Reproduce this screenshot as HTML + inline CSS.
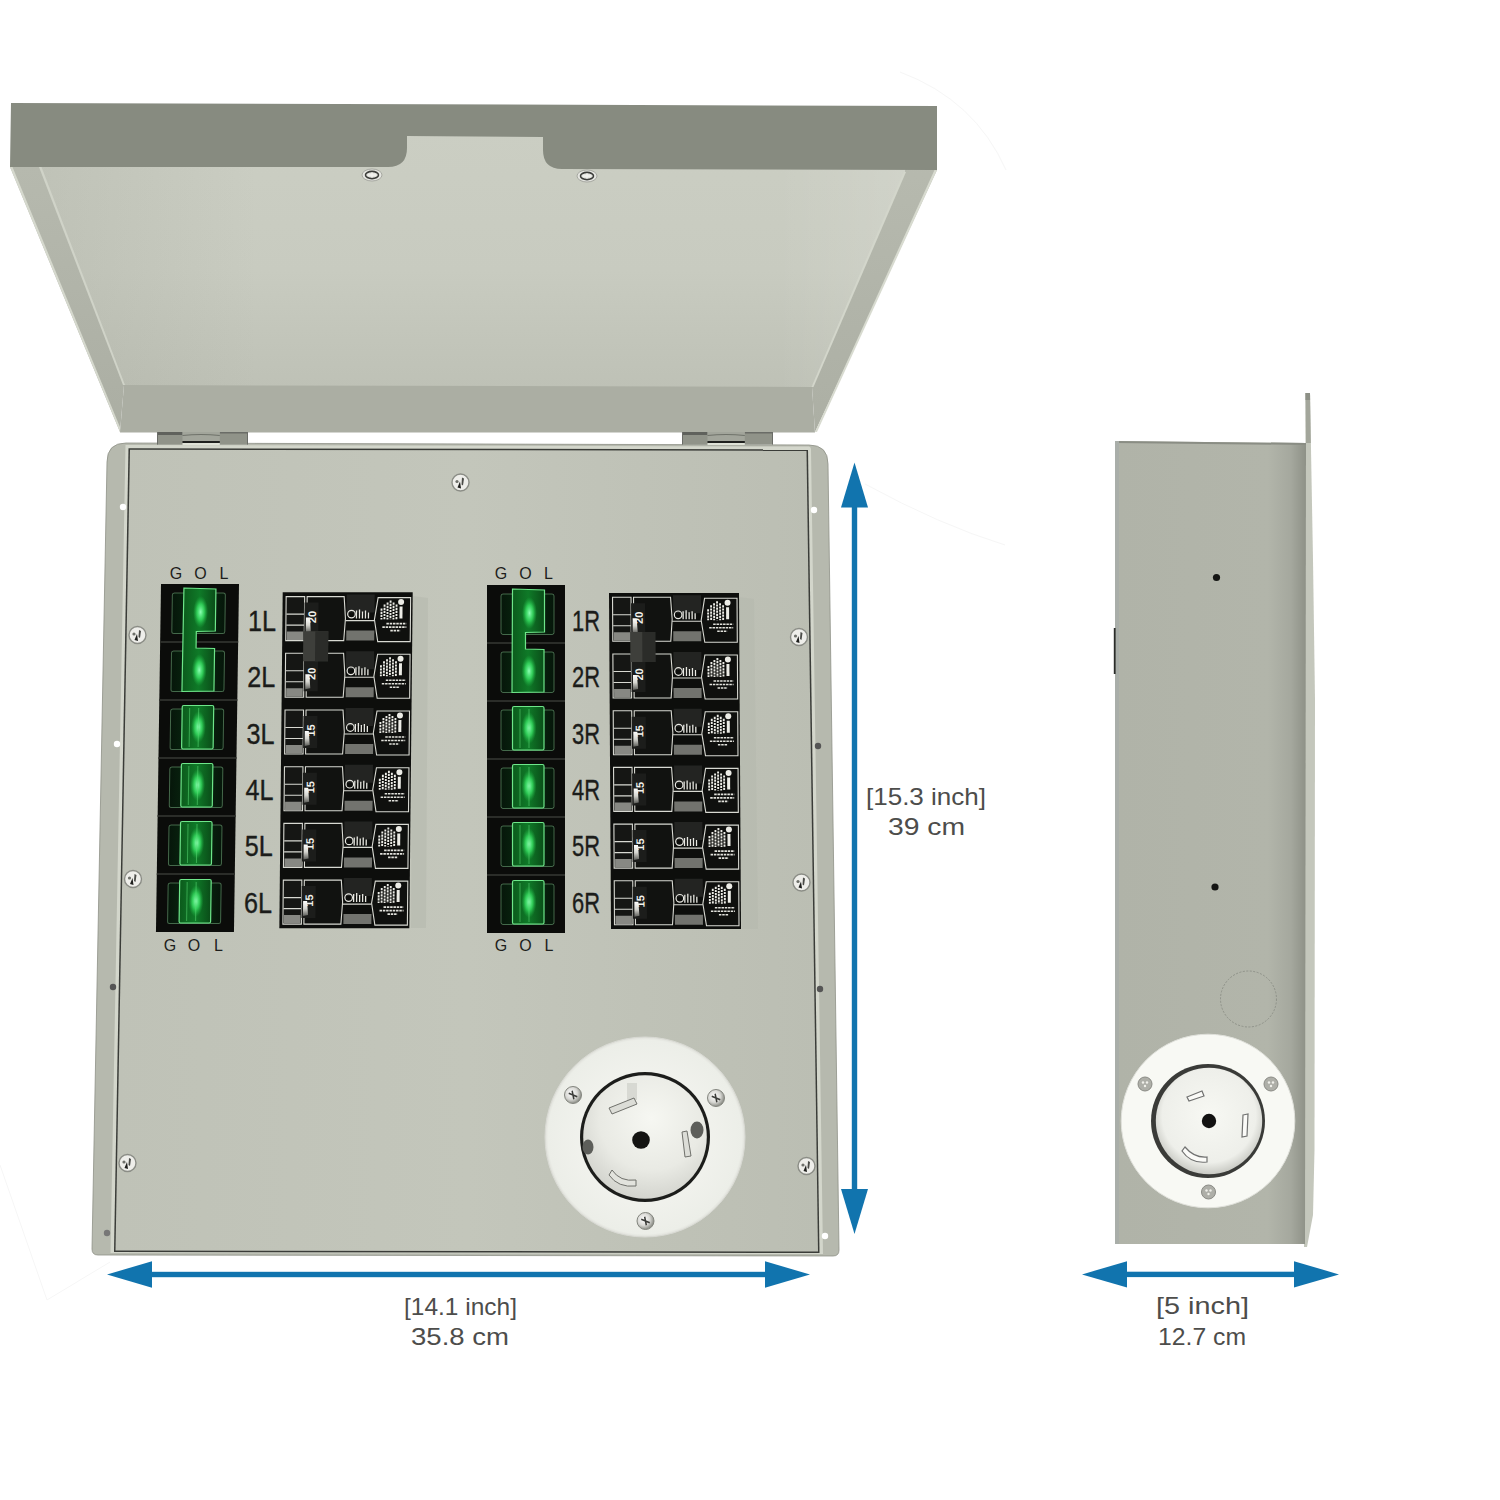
<!DOCTYPE html>
<html><head><meta charset="utf-8"><title>Transfer switch dimensions</title>
<style>html,body{margin:0;padding:0;background:#fff;width:1500px;height:1500px;overflow:hidden}svg{display:block}</style>
</head><body><svg width="1500" height="1500" viewBox="0 0 1500 1500">
<defs>
<linearGradient id="lidIn" x1="0" y1="0" x2="0" y2="1">
<stop offset="0" stop-color="#cbcec3"/><stop offset="0.55" stop-color="#c8cbc0"/><stop offset="1" stop-color="#bec1b6"/></linearGradient>
<linearGradient id="lidR" x1="0" y1="0" x2="0" y2="1">
<stop offset="0" stop-color="#b7baaf"/><stop offset="1" stop-color="#acafa4"/></linearGradient>
<linearGradient id="lidL" x1="0" y1="0" x2="0" y2="1">
<stop offset="0" stop-color="#b6b9ae"/><stop offset="1" stop-color="#abaea3"/></linearGradient>
<linearGradient id="lidIn2" x1="0" y1="0" x2="1" y2="0">
<stop offset="0" stop-color="#9fa297" stop-opacity="0.25"/><stop offset="0.25" stop-color="#9fa297" stop-opacity="0"/><stop offset="0.85" stop-color="#ffffff" stop-opacity="0"/><stop offset="1" stop-color="#ffffff" stop-opacity="0.12"/></linearGradient>
<linearGradient id="panelG" x1="0" y1="0" x2="1" y2="0">
<stop offset="0" stop-color="#bfc2b7"/><stop offset="0.5" stop-color="#c3c6bb"/><stop offset="1" stop-color="#bbbeb3"/></linearGradient>
<linearGradient id="sideG" x1="0" y1="0" x2="1" y2="0">
<stop offset="0" stop-color="#b0b3a8"/><stop offset="0.8" stop-color="#b2b5aa"/><stop offset="0.92" stop-color="#a5a89e"/><stop offset="1" stop-color="#8e9187"/></linearGradient>
<radialGradient id="screwG" cx="0.4" cy="0.4" r="0.6">
<stop offset="0" stop-color="#ffffff"/><stop offset="0.6" stop-color="#d8d8d4"/><stop offset="1" stop-color="#8d8f88"/></radialGradient>
</defs>
<rect width="1500" height="1500" fill="#ffffff"/>
<path d="M900,72 Q975,100 1006,170" fill="none" stroke="#f6f6f6" stroke-width="1"/>
<path d="M865,484 Q940,525 1005,545" fill="none" stroke="#f6f6f6" stroke-width="1"/>
<path d="M0,1165 L47,1300 L110,1262" fill="none" stroke="#f6f6f6" stroke-width="1"/>
<polygon points="40,128 905,128 906,172 812,388 124,386 40,167" fill="url(#lidIn)"/>
<polygon points="40,128 905,128 906,172 812,388 124,386 40,167" fill="url(#lidIn2)"/>
<polygon points="10,167 40,167 124,385 120,432" fill="url(#lidL)"/>
<polygon points="10,167 12.5,167 122,432 120,432" fill="#d6d9ce"/>
<polygon points="39,167 41.5,167 125,385 123,385" fill="#d0d3c8"/>
<polygon points="906,150 937,150 937,170 815,432 812,387 905,172" fill="url(#lidR)"/>
<polygon points="934.5,170 937,170 817,432 815,432" fill="#d8dbd0"/>
<polygon points="903.5,172 906,172 813.5,387 811.5,387" fill="#d3d6cb"/>
<polygon points="124,385 812,387 815,432.5 120,432.5" fill="#abaea3"/>
<path d="M11,103 L937,106 L937,170 L562,169 Q543,169 543,150 L543,137 L407,136 L407,148 Q407,167 388,167 L10,167 Z" fill="#878b80"/>
<ellipse cx="372" cy="175" rx="10" ry="6" fill="#e4e5e0" stroke="#9a9c95" stroke-width="0.8"/>
<ellipse cx="372" cy="175" rx="6.5" ry="3.6" fill="none" stroke="#3c3d3a" stroke-width="1.6"/>
<path d="M368,175 L376,175 M372,172.5 L372,177.5" stroke="#f4f4f0" stroke-width="1.4"/>
<ellipse cx="587" cy="176" rx="10" ry="6" fill="#e4e5e0" stroke="#9a9c95" stroke-width="0.8"/>
<ellipse cx="587" cy="176" rx="6.5" ry="3.6" fill="none" stroke="#3c3d3a" stroke-width="1.6"/>
<path d="M583,176 L591,176 M587,173.5 L587,178.5" stroke="#f4f4f0" stroke-width="1.4"/>
<path d="M107,462 Q107,443 126,443 L809,445 Q828,445 828,464 L839,1250 Q839,1256 833,1256 L98,1255 Q92,1255 92,1249 Z" fill="#b6b9ae" stroke="#8e9187" stroke-width="0.8"/>
<path d="M125.5,445 L809,446.5 Q811,447 811,449 L823,1254 L110.5,1253 Z" fill="#d3d6cb"/>
<polygon points="128.5,448.3 808,449.3 819.5,1253 114,1252" fill="#3a3c38"/>
<polygon points="130,449.8 806.5,450.8 818,1251.5 115.5,1250.5" fill="url(#panelG)"/>
<rect x="157" y="432" width="91" height="12.5" fill="#909389"/>
<rect x="157" y="432" width="25.5" height="3" fill="#5f615c"/>
<rect x="219.8" y="432" width="28.2" height="1.5" fill="#6a6c67"/>
<rect x="182.5" y="432" width="37.3" height="9" fill="#a2a59b"/>
<path d="M182.5,435.5 Q201.1,433.5 219.8,435.5" stroke="#6f726a" stroke-width="1.2" fill="none"/>
<rect x="182.5" y="441" width="37.3" height="2" fill="#1f201e"/>
<rect x="182.5" y="443" width="37.3" height="2" fill="#dfe2d7"/>
<rect x="157" y="432" width="1" height="12.5" fill="#6a6c67"/>
<rect x="247" y="432" width="1" height="12.5" fill="#6a6c67"/>
<rect x="682" y="432" width="91" height="12.5" fill="#909389"/>
<rect x="682" y="432" width="25.5" height="3" fill="#5f615c"/>
<rect x="744.8" y="432" width="28.2" height="1.5" fill="#6a6c67"/>
<rect x="707.5" y="432" width="37.3" height="9" fill="#a2a59b"/>
<path d="M707.5,435.5 Q726.1,433.5 744.8,435.5" stroke="#6f726a" stroke-width="1.2" fill="none"/>
<rect x="707.5" y="441" width="37.3" height="2" fill="#1f201e"/>
<rect x="707.5" y="443" width="37.3" height="2" fill="#dfe2d7"/>
<rect x="682" y="432" width="1" height="12.5" fill="#6a6c67"/>
<rect x="772" y="432" width="1" height="12.5" fill="#6a6c67"/>
<circle cx="123" cy="507" r="3.2" fill="#ffffff"/>
<circle cx="117" cy="744" r="3.2" fill="#ffffff"/>
<circle cx="113" cy="987" r="3.2" fill="#555"/>
<circle cx="107" cy="1233" r="3.2" fill="#777"/>
<circle cx="814" cy="510" r="3.2" fill="#ffffff"/>
<circle cx="818" cy="746" r="3.2" fill="#555"/>
<circle cx="820" cy="989" r="3.2" fill="#555"/>
<circle cx="825" cy="1236" r="3.2" fill="#ffffff"/>
<circle cx="460.5" cy="482.5" r="8.5" fill="#eeeeea" stroke="#8b8d86" stroke-width="1.4"/>
<path d="M457.5,487.5 L460.0,481.5 L461.0,488.5 Z" fill="#1e1f1d"/>
<circle cx="457.0" cy="481.5" r="1.6" fill="#6e706a"/>
<path d="M462.0,477.5 L464.0,478.5 L463.0,485.5 L461.5,484.5 Z" fill="#4b4c48"/>
<circle cx="137.5" cy="635" r="8.5" fill="#eeeeea" stroke="#8b8d86" stroke-width="1.4"/>
<path d="M134.5,640 L137.0,634 L138.0,641 Z" fill="#1e1f1d"/>
<circle cx="134.0" cy="634" r="1.6" fill="#6e706a"/>
<path d="M139.0,630 L141.0,631 L140.0,638 L138.5,637 Z" fill="#4b4c48"/>
<circle cx="133" cy="879" r="8.5" fill="#eeeeea" stroke="#8b8d86" stroke-width="1.4"/>
<path d="M130,884 L132.5,878 L133.5,885 Z" fill="#1e1f1d"/>
<circle cx="129.5" cy="878" r="1.6" fill="#6e706a"/>
<path d="M134.5,874 L136.5,875 L135.5,882 L134,881 Z" fill="#4b4c48"/>
<circle cx="127.5" cy="1163" r="8.5" fill="#eeeeea" stroke="#8b8d86" stroke-width="1.4"/>
<path d="M124.5,1168 L127.0,1162 L128.0,1169 Z" fill="#1e1f1d"/>
<circle cx="124.0" cy="1162" r="1.6" fill="#6e706a"/>
<path d="M129.0,1158 L131.0,1159 L130.0,1166 L128.5,1165 Z" fill="#4b4c48"/>
<circle cx="799" cy="637" r="8.5" fill="#eeeeea" stroke="#8b8d86" stroke-width="1.4"/>
<path d="M796,642 L798.5,636 L799.5,643 Z" fill="#1e1f1d"/>
<circle cx="795.5" cy="636" r="1.6" fill="#6e706a"/>
<path d="M800.5,632 L802.5,633 L801.5,640 L800,639 Z" fill="#4b4c48"/>
<circle cx="801.5" cy="882.5" r="8.5" fill="#eeeeea" stroke="#8b8d86" stroke-width="1.4"/>
<path d="M798.5,887.5 L801.0,881.5 L802.0,888.5 Z" fill="#1e1f1d"/>
<circle cx="798.0" cy="881.5" r="1.6" fill="#6e706a"/>
<path d="M803.0,877.5 L805.0,878.5 L804.0,885.5 L802.5,884.5 Z" fill="#4b4c48"/>
<circle cx="806.5" cy="1166" r="8.5" fill="#eeeeea" stroke="#8b8d86" stroke-width="1.4"/>
<path d="M803.5,1171 L806.0,1165 L807.0,1172 Z" fill="#1e1f1d"/>
<circle cx="803.0" cy="1165" r="1.6" fill="#6e706a"/>
<path d="M808.0,1161 L810.0,1162 L809.0,1169 L807.5,1168 Z" fill="#4b4c48"/>
<defs>
<radialGradient id="glow" cx="0.5" cy="0.5" r="0.5">
<stop offset="0" stop-color="#7dffa8"/><stop offset="0.35" stop-color="#22d14a"/><stop offset="1" stop-color="#0b5a1c"/></radialGradient>
<linearGradient id="outerG" x1="0" y1="0" x2="1" y2="0">
<stop offset="0" stop-color="#06160a"/><stop offset="0.5" stop-color="#0a2e12"/><stop offset="1" stop-color="#06160a"/></linearGradient>
<linearGradient id="glow2" x1="0" y1="0" x2="1" y2="0">
<stop offset="0" stop-color="#0c5a1c"/><stop offset="0.5" stop-color="#0f7a28"/><stop offset="1" stop-color="#0a4c18"/></linearGradient>
<radialGradient id="glowC" cx="0.5" cy="0.5" r="0.5">
<stop offset="0" stop-color="#8dffb4" stop-opacity="1"/><stop offset="0.5" stop-color="#3ef06c" stop-opacity="0.7"/><stop offset="1" stop-color="#20c048" stop-opacity="0"/></radialGradient>
</defs>
<g transform="translate(161,584) matrix(1,0,-0.0145,1,0,0)">
<rect x="0" y="0" width="78" height="348" fill="#0b0c0a"/>
<rect x="11.5" y="9" width="53" height="40.5" rx="2" fill="url(#outerG)" stroke="#8fd39a" stroke-opacity="0.45" stroke-width="1"/>
<rect x="0" y="57" width="78" height="2" fill="#2b2d29"/>
<rect x="11.5" y="67" width="53" height="40.5" rx="2" fill="url(#outerG)" stroke="#8fd39a" stroke-opacity="0.45" stroke-width="1"/>
<rect x="0" y="115" width="78" height="2" fill="#2b2d29"/>
<rect x="11.5" y="125" width="53" height="40.5" rx="2" fill="url(#outerG)" stroke="#8fd39a" stroke-opacity="0.45" stroke-width="1"/>
<rect x="0" y="173" width="78" height="2" fill="#2b2d29"/>
<rect x="11.5" y="183" width="53" height="40.5" rx="2" fill="url(#outerG)" stroke="#8fd39a" stroke-opacity="0.45" stroke-width="1"/>
<rect x="0" y="231" width="78" height="2" fill="#2b2d29"/>
<rect x="11.5" y="241" width="53" height="40.5" rx="2" fill="url(#outerG)" stroke="#8fd39a" stroke-opacity="0.45" stroke-width="1"/>
<rect x="0" y="289" width="78" height="2" fill="#2b2d29"/>
<rect x="11.5" y="299" width="53" height="40.5" rx="2" fill="url(#outerG)" stroke="#8fd39a" stroke-opacity="0.45" stroke-width="1"/>
<g transform="translate(0,0)">
<path d="M23,4 L55,5 L55,47 L36,47.5 L36,64 L54.5,64.5 L54.5,107 L22.5,107.5 Z" fill="url(#glow2)" stroke="#6ee68a" stroke-width="1.2"/>
<ellipse cx="40" cy="28" rx="7.5" ry="16" fill="url(#glowC)"/>
<ellipse cx="39.5" cy="86" rx="7.5" ry="16" fill="url(#glowC)"/>
<rect x="23" y="121.5" width="31.5" height="43.5" rx="1.5" fill="url(#glow2)" stroke="#6ee68a" stroke-width="1.2"/>
<ellipse cx="39.5" cy="143" rx="7.5" ry="16" fill="url(#glowC)"/>
<path d="M30.5,124 L30.5,163 M39.5,124 L39.5,163" stroke="#5bd874" stroke-opacity="0.55" stroke-width="1"/>
<rect x="23" y="179.5" width="31.5" height="43.5" rx="1.5" fill="url(#glow2)" stroke="#6ee68a" stroke-width="1.2"/>
<ellipse cx="39.5" cy="201" rx="7.5" ry="16" fill="url(#glowC)"/>
<path d="M30.5,182 L30.5,221 M39.5,182 L39.5,221" stroke="#5bd874" stroke-opacity="0.55" stroke-width="1"/>
<rect x="23" y="237.5" width="31.5" height="43.5" rx="1.5" fill="url(#glow2)" stroke="#6ee68a" stroke-width="1.2"/>
<ellipse cx="39.5" cy="259" rx="7.5" ry="16" fill="url(#glowC)"/>
<path d="M30.5,240 L30.5,279 M39.5,240 L39.5,279" stroke="#5bd874" stroke-opacity="0.55" stroke-width="1"/>
<rect x="23" y="295.5" width="31.5" height="43.5" rx="1.5" fill="url(#glow2)" stroke="#6ee68a" stroke-width="1.2"/>
<ellipse cx="39.5" cy="317" rx="7.5" ry="16" fill="url(#glowC)"/>
<path d="M30.5,298 L30.5,337 M39.5,298 L39.5,337" stroke="#5bd874" stroke-opacity="0.55" stroke-width="1"/>
</g>
</g>
<g transform="translate(487,585) matrix(1,0,0.0,1,0,0)">
<rect x="0" y="0" width="78" height="348" fill="#0b0c0a"/>
<rect x="14.0" y="9" width="53" height="40.5" rx="2" fill="url(#outerG)" stroke="#8fd39a" stroke-opacity="0.45" stroke-width="1"/>
<rect x="0" y="57" width="78" height="2" fill="#2b2d29"/>
<rect x="14.0" y="67" width="53" height="40.5" rx="2" fill="url(#outerG)" stroke="#8fd39a" stroke-opacity="0.45" stroke-width="1"/>
<rect x="0" y="115" width="78" height="2" fill="#2b2d29"/>
<rect x="14.0" y="125" width="53" height="40.5" rx="2" fill="url(#outerG)" stroke="#8fd39a" stroke-opacity="0.45" stroke-width="1"/>
<rect x="0" y="173" width="78" height="2" fill="#2b2d29"/>
<rect x="14.0" y="183" width="53" height="40.5" rx="2" fill="url(#outerG)" stroke="#8fd39a" stroke-opacity="0.45" stroke-width="1"/>
<rect x="0" y="231" width="78" height="2" fill="#2b2d29"/>
<rect x="14.0" y="241" width="53" height="40.5" rx="2" fill="url(#outerG)" stroke="#8fd39a" stroke-opacity="0.45" stroke-width="1"/>
<rect x="0" y="289" width="78" height="2" fill="#2b2d29"/>
<rect x="14.0" y="299" width="53" height="40.5" rx="2" fill="url(#outerG)" stroke="#8fd39a" stroke-opacity="0.45" stroke-width="1"/>
<g transform="translate(2.5,0)">
<path d="M23,4 L55,5 L55,47 L36,47.5 L36,64 L54.5,64.5 L54.5,107 L22.5,107.5 Z" fill="url(#glow2)" stroke="#6ee68a" stroke-width="1.2"/>
<ellipse cx="40" cy="28" rx="7.5" ry="16" fill="url(#glowC)"/>
<ellipse cx="39.5" cy="86" rx="7.5" ry="16" fill="url(#glowC)"/>
<rect x="23" y="121.5" width="31.5" height="43.5" rx="1.5" fill="url(#glow2)" stroke="#6ee68a" stroke-width="1.2"/>
<ellipse cx="39.5" cy="143" rx="7.5" ry="16" fill="url(#glowC)"/>
<path d="M30.5,124 L30.5,163 M39.5,124 L39.5,163" stroke="#5bd874" stroke-opacity="0.55" stroke-width="1"/>
<rect x="23" y="179.5" width="31.5" height="43.5" rx="1.5" fill="url(#glow2)" stroke="#6ee68a" stroke-width="1.2"/>
<ellipse cx="39.5" cy="201" rx="7.5" ry="16" fill="url(#glowC)"/>
<path d="M30.5,182 L30.5,221 M39.5,182 L39.5,221" stroke="#5bd874" stroke-opacity="0.55" stroke-width="1"/>
<rect x="23" y="237.5" width="31.5" height="43.5" rx="1.5" fill="url(#glow2)" stroke="#6ee68a" stroke-width="1.2"/>
<ellipse cx="39.5" cy="259" rx="7.5" ry="16" fill="url(#glowC)"/>
<path d="M30.5,240 L30.5,279 M39.5,240 L39.5,279" stroke="#5bd874" stroke-opacity="0.55" stroke-width="1"/>
<rect x="23" y="295.5" width="31.5" height="43.5" rx="1.5" fill="url(#glow2)" stroke="#6ee68a" stroke-width="1.2"/>
<ellipse cx="39.5" cy="317" rx="7.5" ry="16" fill="url(#glowC)"/>
<path d="M30.5,298 L30.5,337 M39.5,298 L39.5,337" stroke="#5bd874" stroke-opacity="0.55" stroke-width="1"/>
</g>
</g>
<polygon points="412.5,596 428,598 426,928 411,928" fill="#b5b8ad" opacity="0.55"/>
<polygon points="738.5,597 754,599 758,929 742,929" fill="#b5b8ad" opacity="0.55"/>
<g transform="translate(282.7,592.3) matrix(1,0,-0.01,1,0,0)">
<rect x="0" y="0" width="130" height="336" fill="#0d0e0c"/>
<rect x="3.5" y="4.3" width="18.5" height="44" fill="#151614" stroke="#d8d9d2" stroke-width="1.1"/>
<rect x="4.5" y="39.3" width="16.5" height="8.5" fill="#878883"/>
<path d="M4,21.8 L22,21.8 M4,32.8 L22,32.8" stroke="#d8d9d2" stroke-width="1.1"/>
<path d="M24.5,4.3 L61.5,4.3 L63,26.3 L61.5,48.3 L24.5,48.3 Z" fill="#111210" stroke="#d8d9d2" stroke-width="1.1"/>
<rect x="22" y="10.3" width="14" height="32" fill="#1c1d1b"/>
<path d="M23.5,25.3 L27.5,25.3 L28.5,39.3 L23.5,40.3 Z" fill="url(#tagG)"/>
<rect x="64" y="2.3" width="28" height="18" fill="#232422"/>
<circle cx="69" cy="21.8" r="3.8" fill="none" stroke="#e8e8e2" stroke-width="1.2"/>
<path d="M74,18.3 L74,26.3 M77,17.3 L77,26.3 M80,19.3 L80,26.3 M83,18.3 L83,26.3 M86,20.3 L86,26.3" stroke="#e8e8e2" stroke-width="1.3"/>
<path d="M63,28.3 L92,28.3" stroke="#d8d9d2" stroke-width="1.1"/>
<rect x="64" y="38.3" width="28" height="10" fill="#72736e"/>
<path d="M95.5,5.3 L128,5.3 L128,49.3 L95.5,49.3 L92,27.3 Z" fill="#0f100e" stroke="#d8d9d2" stroke-width="1.1"/>
<path d="M99,16.3 L99,27.3 M102,12.3 L102,27.3 M105,10.3 L105,27.3 M108,8.3 L108,27.3 M111,10.3 L111,27.3 M114,12.3 L114,27.3" stroke="#ecece6" stroke-width="1.9" stroke-dasharray="2.2,0.9"/>
<rect x="117" y="14.3" width="3" height="12" fill="#ecece6"/>
<circle cx="118.5" cy="9.8" r="3" fill="#ecece6"/>
<path d="M104,31.3 L124,31.3 M100,34.8 L124,34.8 M108,38.3 L118,38.3" stroke="#e2e2dc" stroke-width="1.6" stroke-dasharray="2.5,0.8"/>
<text x="0" y="0" transform="translate(33.5,24.8) rotate(-90)" text-anchor="middle" font-family="Liberation Sans, sans-serif" font-weight="bold" font-size="11" fill="#f2f2ec">20</text>
<rect x="3.5" y="61.0" width="18.5" height="44" fill="#151614" stroke="#d8d9d2" stroke-width="1.1"/>
<rect x="4.5" y="96.0" width="16.5" height="8.5" fill="#878883"/>
<path d="M4,78.5 L22,78.5 M4,89.5 L22,89.5" stroke="#d8d9d2" stroke-width="1.1"/>
<path d="M24.5,61.0 L61.5,61.0 L63,83.0 L61.5,105.0 L24.5,105.0 Z" fill="#111210" stroke="#d8d9d2" stroke-width="1.1"/>
<rect x="22" y="67.0" width="14" height="32" fill="#1c1d1b"/>
<path d="M23.5,82.0 L27.5,82.0 L28.5,96.0 L23.5,97.0 Z" fill="url(#tagG)"/>
<rect x="64" y="59.0" width="28" height="18" fill="#232422"/>
<circle cx="69" cy="78.5" r="3.8" fill="none" stroke="#e8e8e2" stroke-width="1.2"/>
<path d="M74,75.0 L74,83.0 M77,74.0 L77,83.0 M80,76.0 L80,83.0 M83,75.0 L83,83.0 M86,77.0 L86,83.0" stroke="#e8e8e2" stroke-width="1.3"/>
<path d="M63,85.0 L92,85.0" stroke="#d8d9d2" stroke-width="1.1"/>
<rect x="64" y="95.0" width="28" height="10" fill="#72736e"/>
<path d="M95.5,62.0 L128,62.0 L128,106.0 L95.5,106.0 L92,84.0 Z" fill="#0f100e" stroke="#d8d9d2" stroke-width="1.1"/>
<path d="M99,73.0 L99,84.0 M102,69.0 L102,84.0 M105,67.0 L105,84.0 M108,65.0 L108,84.0 M111,67.0 L111,84.0 M114,69.0 L114,84.0" stroke="#ecece6" stroke-width="1.9" stroke-dasharray="2.2,0.9"/>
<rect x="117" y="71.0" width="3" height="12" fill="#ecece6"/>
<circle cx="118.5" cy="66.5" r="3" fill="#ecece6"/>
<path d="M104,88.0 L124,88.0 M100,91.5 L124,91.5 M108,95.0 L118,95.0" stroke="#e2e2dc" stroke-width="1.6" stroke-dasharray="2.5,0.8"/>
<text x="0" y="0" transform="translate(33.5,81.5) rotate(-90)" text-anchor="middle" font-family="Liberation Sans, sans-serif" font-weight="bold" font-size="11" fill="#f2f2ec">20</text>
<rect x="3.5" y="117.7" width="18.5" height="44" fill="#151614" stroke="#d8d9d2" stroke-width="1.1"/>
<rect x="4.5" y="152.7" width="16.5" height="8.5" fill="#878883"/>
<path d="M4,135.2 L22,135.2 M4,146.2 L22,146.2" stroke="#d8d9d2" stroke-width="1.1"/>
<path d="M24.5,117.7 L61.5,117.7 L63,139.7 L61.5,161.7 L24.5,161.7 Z" fill="#111210" stroke="#d8d9d2" stroke-width="1.1"/>
<rect x="22" y="123.7" width="14" height="32" fill="#1c1d1b"/>
<path d="M23.5,138.7 L27.5,138.7 L28.5,152.7 L23.5,153.7 Z" fill="url(#tagG)"/>
<rect x="64" y="115.7" width="28" height="18" fill="#232422"/>
<circle cx="69" cy="135.2" r="3.8" fill="none" stroke="#e8e8e2" stroke-width="1.2"/>
<path d="M74,131.7 L74,139.7 M77,130.7 L77,139.7 M80,132.7 L80,139.7 M83,131.7 L83,139.7 M86,133.7 L86,139.7" stroke="#e8e8e2" stroke-width="1.3"/>
<path d="M63,141.7 L92,141.7" stroke="#d8d9d2" stroke-width="1.1"/>
<rect x="64" y="151.7" width="28" height="10" fill="#72736e"/>
<path d="M95.5,118.7 L128,118.7 L128,162.7 L95.5,162.7 L92,140.7 Z" fill="#0f100e" stroke="#d8d9d2" stroke-width="1.1"/>
<path d="M99,129.7 L99,140.7 M102,125.7 L102,140.7 M105,123.7 L105,140.7 M108,121.7 L108,140.7 M111,123.7 L111,140.7 M114,125.7 L114,140.7" stroke="#ecece6" stroke-width="1.9" stroke-dasharray="2.2,0.9"/>
<rect x="117" y="127.7" width="3" height="12" fill="#ecece6"/>
<circle cx="118.5" cy="123.2" r="3" fill="#ecece6"/>
<path d="M104,144.7 L124,144.7 M100,148.2 L124,148.2 M108,151.7 L118,151.7" stroke="#e2e2dc" stroke-width="1.6" stroke-dasharray="2.5,0.8"/>
<text x="0" y="0" transform="translate(33.5,138.2) rotate(-90)" text-anchor="middle" font-family="Liberation Sans, sans-serif" font-weight="bold" font-size="11" fill="#f2f2ec">15</text>
<rect x="3.5" y="174.40000000000003" width="18.5" height="44" fill="#151614" stroke="#d8d9d2" stroke-width="1.1"/>
<rect x="4.5" y="209.40000000000003" width="16.5" height="8.5" fill="#878883"/>
<path d="M4,191.90000000000003 L22,191.90000000000003 M4,202.90000000000003 L22,202.90000000000003" stroke="#d8d9d2" stroke-width="1.1"/>
<path d="M24.5,174.40000000000003 L61.5,174.40000000000003 L63,196.40000000000003 L61.5,218.40000000000003 L24.5,218.40000000000003 Z" fill="#111210" stroke="#d8d9d2" stroke-width="1.1"/>
<rect x="22" y="180.40000000000003" width="14" height="32" fill="#1c1d1b"/>
<path d="M23.5,195.40000000000003 L27.5,195.40000000000003 L28.5,209.40000000000003 L23.5,210.40000000000003 Z" fill="url(#tagG)"/>
<rect x="64" y="172.40000000000003" width="28" height="18" fill="#232422"/>
<circle cx="69" cy="191.90000000000003" r="3.8" fill="none" stroke="#e8e8e2" stroke-width="1.2"/>
<path d="M74,188.40000000000003 L74,196.40000000000003 M77,187.40000000000003 L77,196.40000000000003 M80,189.40000000000003 L80,196.40000000000003 M83,188.40000000000003 L83,196.40000000000003 M86,190.40000000000003 L86,196.40000000000003" stroke="#e8e8e2" stroke-width="1.3"/>
<path d="M63,198.40000000000003 L92,198.40000000000003" stroke="#d8d9d2" stroke-width="1.1"/>
<rect x="64" y="208.40000000000003" width="28" height="10" fill="#72736e"/>
<path d="M95.5,175.40000000000003 L128,175.40000000000003 L128,219.40000000000003 L95.5,219.40000000000003 L92,197.40000000000003 Z" fill="#0f100e" stroke="#d8d9d2" stroke-width="1.1"/>
<path d="M99,186.40000000000003 L99,197.40000000000003 M102,182.40000000000003 L102,197.40000000000003 M105,180.40000000000003 L105,197.40000000000003 M108,178.40000000000003 L108,197.40000000000003 M111,180.40000000000003 L111,197.40000000000003 M114,182.40000000000003 L114,197.40000000000003" stroke="#ecece6" stroke-width="1.9" stroke-dasharray="2.2,0.9"/>
<rect x="117" y="184.40000000000003" width="3" height="12" fill="#ecece6"/>
<circle cx="118.5" cy="179.90000000000003" r="3" fill="#ecece6"/>
<path d="M104,201.40000000000003 L124,201.40000000000003 M100,204.90000000000003 L124,204.90000000000003 M108,208.40000000000003 L118,208.40000000000003" stroke="#e2e2dc" stroke-width="1.6" stroke-dasharray="2.5,0.8"/>
<text x="0" y="0" transform="translate(33.5,194.90000000000003) rotate(-90)" text-anchor="middle" font-family="Liberation Sans, sans-serif" font-weight="bold" font-size="11" fill="#f2f2ec">15</text>
<rect x="3.5" y="231.10000000000002" width="18.5" height="44" fill="#151614" stroke="#d8d9d2" stroke-width="1.1"/>
<rect x="4.5" y="266.1" width="16.5" height="8.5" fill="#878883"/>
<path d="M4,248.60000000000002 L22,248.60000000000002 M4,259.6 L22,259.6" stroke="#d8d9d2" stroke-width="1.1"/>
<path d="M24.5,231.10000000000002 L61.5,231.10000000000002 L63,253.10000000000002 L61.5,275.1 L24.5,275.1 Z" fill="#111210" stroke="#d8d9d2" stroke-width="1.1"/>
<rect x="22" y="237.10000000000002" width="14" height="32" fill="#1c1d1b"/>
<path d="M23.5,252.10000000000002 L27.5,252.10000000000002 L28.5,266.1 L23.5,267.1 Z" fill="url(#tagG)"/>
<rect x="64" y="229.10000000000002" width="28" height="18" fill="#232422"/>
<circle cx="69" cy="248.60000000000002" r="3.8" fill="none" stroke="#e8e8e2" stroke-width="1.2"/>
<path d="M74,245.10000000000002 L74,253.10000000000002 M77,244.10000000000002 L77,253.10000000000002 M80,246.10000000000002 L80,253.10000000000002 M83,245.10000000000002 L83,253.10000000000002 M86,247.10000000000002 L86,253.10000000000002" stroke="#e8e8e2" stroke-width="1.3"/>
<path d="M63,255.10000000000002 L92,255.10000000000002" stroke="#d8d9d2" stroke-width="1.1"/>
<rect x="64" y="265.1" width="28" height="10" fill="#72736e"/>
<path d="M95.5,232.10000000000002 L128,232.10000000000002 L128,276.1 L95.5,276.1 L92,254.10000000000002 Z" fill="#0f100e" stroke="#d8d9d2" stroke-width="1.1"/>
<path d="M99,243.10000000000002 L99,254.10000000000002 M102,239.10000000000002 L102,254.10000000000002 M105,237.10000000000002 L105,254.10000000000002 M108,235.10000000000002 L108,254.10000000000002 M111,237.10000000000002 L111,254.10000000000002 M114,239.10000000000002 L114,254.10000000000002" stroke="#ecece6" stroke-width="1.9" stroke-dasharray="2.2,0.9"/>
<rect x="117" y="241.10000000000002" width="3" height="12" fill="#ecece6"/>
<circle cx="118.5" cy="236.60000000000002" r="3" fill="#ecece6"/>
<path d="M104,258.1 L124,258.1 M100,261.6 L124,261.6 M108,265.1 L118,265.1" stroke="#e2e2dc" stroke-width="1.6" stroke-dasharray="2.5,0.8"/>
<text x="0" y="0" transform="translate(33.5,251.60000000000002) rotate(-90)" text-anchor="middle" font-family="Liberation Sans, sans-serif" font-weight="bold" font-size="11" fill="#f2f2ec">15</text>
<rect x="3.5" y="287.8" width="18.5" height="44" fill="#151614" stroke="#d8d9d2" stroke-width="1.1"/>
<rect x="4.5" y="322.8" width="16.5" height="8.5" fill="#878883"/>
<path d="M4,305.3 L22,305.3 M4,316.3 L22,316.3" stroke="#d8d9d2" stroke-width="1.1"/>
<path d="M24.5,287.8 L61.5,287.8 L63,309.8 L61.5,331.8 L24.5,331.8 Z" fill="#111210" stroke="#d8d9d2" stroke-width="1.1"/>
<rect x="22" y="293.8" width="14" height="32" fill="#1c1d1b"/>
<path d="M23.5,308.8 L27.5,308.8 L28.5,322.8 L23.5,323.8 Z" fill="url(#tagG)"/>
<rect x="64" y="285.8" width="28" height="18" fill="#232422"/>
<circle cx="69" cy="305.3" r="3.8" fill="none" stroke="#e8e8e2" stroke-width="1.2"/>
<path d="M74,301.8 L74,309.8 M77,300.8 L77,309.8 M80,302.8 L80,309.8 M83,301.8 L83,309.8 M86,303.8 L86,309.8" stroke="#e8e8e2" stroke-width="1.3"/>
<path d="M63,311.8 L92,311.8" stroke="#d8d9d2" stroke-width="1.1"/>
<rect x="64" y="321.8" width="28" height="10" fill="#72736e"/>
<path d="M95.5,288.8 L128,288.8 L128,332.8 L95.5,332.8 L92,310.8 Z" fill="#0f100e" stroke="#d8d9d2" stroke-width="1.1"/>
<path d="M99,299.8 L99,310.8 M102,295.8 L102,310.8 M105,293.8 L105,310.8 M108,291.8 L108,310.8 M111,293.8 L111,310.8 M114,295.8 L114,310.8" stroke="#ecece6" stroke-width="1.9" stroke-dasharray="2.2,0.9"/>
<rect x="117" y="297.8" width="3" height="12" fill="#ecece6"/>
<circle cx="118.5" cy="293.3" r="3" fill="#ecece6"/>
<path d="M104,314.8 L124,314.8 M100,318.3 L124,318.3 M108,321.8 L118,321.8" stroke="#e2e2dc" stroke-width="1.6" stroke-dasharray="2.5,0.8"/>
<text x="0" y="0" transform="translate(33.5,308.3) rotate(-90)" text-anchor="middle" font-family="Liberation Sans, sans-serif" font-weight="bold" font-size="11" fill="#f2f2ec">15</text>
<rect x="21" y="39" width="25" height="30" fill="#3e3f3b"/>
<rect x="33" y="39" width="13" height="30" fill="#2b2c29"/>
</g>
<g transform="translate(609,593) matrix(1,0,0.006,1,0,0)">
<rect x="0" y="0" width="130" height="336" fill="#0d0e0c"/>
<rect x="3.5" y="4.3" width="18.5" height="44" fill="#151614" stroke="#d8d9d2" stroke-width="1.1"/>
<rect x="4.5" y="39.3" width="16.5" height="8.5" fill="#878883"/>
<path d="M4,21.8 L22,21.8 M4,32.8 L22,32.8" stroke="#d8d9d2" stroke-width="1.1"/>
<path d="M24.5,4.3 L61.5,4.3 L63,26.3 L61.5,48.3 L24.5,48.3 Z" fill="#111210" stroke="#d8d9d2" stroke-width="1.1"/>
<rect x="22" y="10.3" width="14" height="32" fill="#1c1d1b"/>
<path d="M23.5,25.3 L27.5,25.3 L28.5,39.3 L23.5,40.3 Z" fill="url(#tagG)"/>
<rect x="64" y="2.3" width="28" height="18" fill="#232422"/>
<circle cx="69" cy="21.8" r="3.8" fill="none" stroke="#e8e8e2" stroke-width="1.2"/>
<path d="M74,18.3 L74,26.3 M77,17.3 L77,26.3 M80,19.3 L80,26.3 M83,18.3 L83,26.3 M86,20.3 L86,26.3" stroke="#e8e8e2" stroke-width="1.3"/>
<path d="M63,28.3 L92,28.3" stroke="#d8d9d2" stroke-width="1.1"/>
<rect x="64" y="38.3" width="28" height="10" fill="#72736e"/>
<path d="M95.5,5.3 L128,5.3 L128,49.3 L95.5,49.3 L92,27.3 Z" fill="#0f100e" stroke="#d8d9d2" stroke-width="1.1"/>
<path d="M99,16.3 L99,27.3 M102,12.3 L102,27.3 M105,10.3 L105,27.3 M108,8.3 L108,27.3 M111,10.3 L111,27.3 M114,12.3 L114,27.3" stroke="#ecece6" stroke-width="1.9" stroke-dasharray="2.2,0.9"/>
<rect x="117" y="14.3" width="3" height="12" fill="#ecece6"/>
<circle cx="118.5" cy="9.8" r="3" fill="#ecece6"/>
<path d="M104,31.3 L124,31.3 M100,34.8 L124,34.8 M108,38.3 L118,38.3" stroke="#e2e2dc" stroke-width="1.6" stroke-dasharray="2.5,0.8"/>
<text x="0" y="0" transform="translate(33.5,24.8) rotate(-90)" text-anchor="middle" font-family="Liberation Sans, sans-serif" font-weight="bold" font-size="11" fill="#f2f2ec">20</text>
<rect x="3.5" y="61.0" width="18.5" height="44" fill="#151614" stroke="#d8d9d2" stroke-width="1.1"/>
<rect x="4.5" y="96.0" width="16.5" height="8.5" fill="#878883"/>
<path d="M4,78.5 L22,78.5 M4,89.5 L22,89.5" stroke="#d8d9d2" stroke-width="1.1"/>
<path d="M24.5,61.0 L61.5,61.0 L63,83.0 L61.5,105.0 L24.5,105.0 Z" fill="#111210" stroke="#d8d9d2" stroke-width="1.1"/>
<rect x="22" y="67.0" width="14" height="32" fill="#1c1d1b"/>
<path d="M23.5,82.0 L27.5,82.0 L28.5,96.0 L23.5,97.0 Z" fill="url(#tagG)"/>
<rect x="64" y="59.0" width="28" height="18" fill="#232422"/>
<circle cx="69" cy="78.5" r="3.8" fill="none" stroke="#e8e8e2" stroke-width="1.2"/>
<path d="M74,75.0 L74,83.0 M77,74.0 L77,83.0 M80,76.0 L80,83.0 M83,75.0 L83,83.0 M86,77.0 L86,83.0" stroke="#e8e8e2" stroke-width="1.3"/>
<path d="M63,85.0 L92,85.0" stroke="#d8d9d2" stroke-width="1.1"/>
<rect x="64" y="95.0" width="28" height="10" fill="#72736e"/>
<path d="M95.5,62.0 L128,62.0 L128,106.0 L95.5,106.0 L92,84.0 Z" fill="#0f100e" stroke="#d8d9d2" stroke-width="1.1"/>
<path d="M99,73.0 L99,84.0 M102,69.0 L102,84.0 M105,67.0 L105,84.0 M108,65.0 L108,84.0 M111,67.0 L111,84.0 M114,69.0 L114,84.0" stroke="#ecece6" stroke-width="1.9" stroke-dasharray="2.2,0.9"/>
<rect x="117" y="71.0" width="3" height="12" fill="#ecece6"/>
<circle cx="118.5" cy="66.5" r="3" fill="#ecece6"/>
<path d="M104,88.0 L124,88.0 M100,91.5 L124,91.5 M108,95.0 L118,95.0" stroke="#e2e2dc" stroke-width="1.6" stroke-dasharray="2.5,0.8"/>
<text x="0" y="0" transform="translate(33.5,81.5) rotate(-90)" text-anchor="middle" font-family="Liberation Sans, sans-serif" font-weight="bold" font-size="11" fill="#f2f2ec">20</text>
<rect x="3.5" y="117.7" width="18.5" height="44" fill="#151614" stroke="#d8d9d2" stroke-width="1.1"/>
<rect x="4.5" y="152.7" width="16.5" height="8.5" fill="#878883"/>
<path d="M4,135.2 L22,135.2 M4,146.2 L22,146.2" stroke="#d8d9d2" stroke-width="1.1"/>
<path d="M24.5,117.7 L61.5,117.7 L63,139.7 L61.5,161.7 L24.5,161.7 Z" fill="#111210" stroke="#d8d9d2" stroke-width="1.1"/>
<rect x="22" y="123.7" width="14" height="32" fill="#1c1d1b"/>
<path d="M23.5,138.7 L27.5,138.7 L28.5,152.7 L23.5,153.7 Z" fill="url(#tagG)"/>
<rect x="64" y="115.7" width="28" height="18" fill="#232422"/>
<circle cx="69" cy="135.2" r="3.8" fill="none" stroke="#e8e8e2" stroke-width="1.2"/>
<path d="M74,131.7 L74,139.7 M77,130.7 L77,139.7 M80,132.7 L80,139.7 M83,131.7 L83,139.7 M86,133.7 L86,139.7" stroke="#e8e8e2" stroke-width="1.3"/>
<path d="M63,141.7 L92,141.7" stroke="#d8d9d2" stroke-width="1.1"/>
<rect x="64" y="151.7" width="28" height="10" fill="#72736e"/>
<path d="M95.5,118.7 L128,118.7 L128,162.7 L95.5,162.7 L92,140.7 Z" fill="#0f100e" stroke="#d8d9d2" stroke-width="1.1"/>
<path d="M99,129.7 L99,140.7 M102,125.7 L102,140.7 M105,123.7 L105,140.7 M108,121.7 L108,140.7 M111,123.7 L111,140.7 M114,125.7 L114,140.7" stroke="#ecece6" stroke-width="1.9" stroke-dasharray="2.2,0.9"/>
<rect x="117" y="127.7" width="3" height="12" fill="#ecece6"/>
<circle cx="118.5" cy="123.2" r="3" fill="#ecece6"/>
<path d="M104,144.7 L124,144.7 M100,148.2 L124,148.2 M108,151.7 L118,151.7" stroke="#e2e2dc" stroke-width="1.6" stroke-dasharray="2.5,0.8"/>
<text x="0" y="0" transform="translate(33.5,138.2) rotate(-90)" text-anchor="middle" font-family="Liberation Sans, sans-serif" font-weight="bold" font-size="11" fill="#f2f2ec">15</text>
<rect x="3.5" y="174.40000000000003" width="18.5" height="44" fill="#151614" stroke="#d8d9d2" stroke-width="1.1"/>
<rect x="4.5" y="209.40000000000003" width="16.5" height="8.5" fill="#878883"/>
<path d="M4,191.90000000000003 L22,191.90000000000003 M4,202.90000000000003 L22,202.90000000000003" stroke="#d8d9d2" stroke-width="1.1"/>
<path d="M24.5,174.40000000000003 L61.5,174.40000000000003 L63,196.40000000000003 L61.5,218.40000000000003 L24.5,218.40000000000003 Z" fill="#111210" stroke="#d8d9d2" stroke-width="1.1"/>
<rect x="22" y="180.40000000000003" width="14" height="32" fill="#1c1d1b"/>
<path d="M23.5,195.40000000000003 L27.5,195.40000000000003 L28.5,209.40000000000003 L23.5,210.40000000000003 Z" fill="url(#tagG)"/>
<rect x="64" y="172.40000000000003" width="28" height="18" fill="#232422"/>
<circle cx="69" cy="191.90000000000003" r="3.8" fill="none" stroke="#e8e8e2" stroke-width="1.2"/>
<path d="M74,188.40000000000003 L74,196.40000000000003 M77,187.40000000000003 L77,196.40000000000003 M80,189.40000000000003 L80,196.40000000000003 M83,188.40000000000003 L83,196.40000000000003 M86,190.40000000000003 L86,196.40000000000003" stroke="#e8e8e2" stroke-width="1.3"/>
<path d="M63,198.40000000000003 L92,198.40000000000003" stroke="#d8d9d2" stroke-width="1.1"/>
<rect x="64" y="208.40000000000003" width="28" height="10" fill="#72736e"/>
<path d="M95.5,175.40000000000003 L128,175.40000000000003 L128,219.40000000000003 L95.5,219.40000000000003 L92,197.40000000000003 Z" fill="#0f100e" stroke="#d8d9d2" stroke-width="1.1"/>
<path d="M99,186.40000000000003 L99,197.40000000000003 M102,182.40000000000003 L102,197.40000000000003 M105,180.40000000000003 L105,197.40000000000003 M108,178.40000000000003 L108,197.40000000000003 M111,180.40000000000003 L111,197.40000000000003 M114,182.40000000000003 L114,197.40000000000003" stroke="#ecece6" stroke-width="1.9" stroke-dasharray="2.2,0.9"/>
<rect x="117" y="184.40000000000003" width="3" height="12" fill="#ecece6"/>
<circle cx="118.5" cy="179.90000000000003" r="3" fill="#ecece6"/>
<path d="M104,201.40000000000003 L124,201.40000000000003 M100,204.90000000000003 L124,204.90000000000003 M108,208.40000000000003 L118,208.40000000000003" stroke="#e2e2dc" stroke-width="1.6" stroke-dasharray="2.5,0.8"/>
<text x="0" y="0" transform="translate(33.5,194.90000000000003) rotate(-90)" text-anchor="middle" font-family="Liberation Sans, sans-serif" font-weight="bold" font-size="11" fill="#f2f2ec">15</text>
<rect x="3.5" y="231.10000000000002" width="18.5" height="44" fill="#151614" stroke="#d8d9d2" stroke-width="1.1"/>
<rect x="4.5" y="266.1" width="16.5" height="8.5" fill="#878883"/>
<path d="M4,248.60000000000002 L22,248.60000000000002 M4,259.6 L22,259.6" stroke="#d8d9d2" stroke-width="1.1"/>
<path d="M24.5,231.10000000000002 L61.5,231.10000000000002 L63,253.10000000000002 L61.5,275.1 L24.5,275.1 Z" fill="#111210" stroke="#d8d9d2" stroke-width="1.1"/>
<rect x="22" y="237.10000000000002" width="14" height="32" fill="#1c1d1b"/>
<path d="M23.5,252.10000000000002 L27.5,252.10000000000002 L28.5,266.1 L23.5,267.1 Z" fill="url(#tagG)"/>
<rect x="64" y="229.10000000000002" width="28" height="18" fill="#232422"/>
<circle cx="69" cy="248.60000000000002" r="3.8" fill="none" stroke="#e8e8e2" stroke-width="1.2"/>
<path d="M74,245.10000000000002 L74,253.10000000000002 M77,244.10000000000002 L77,253.10000000000002 M80,246.10000000000002 L80,253.10000000000002 M83,245.10000000000002 L83,253.10000000000002 M86,247.10000000000002 L86,253.10000000000002" stroke="#e8e8e2" stroke-width="1.3"/>
<path d="M63,255.10000000000002 L92,255.10000000000002" stroke="#d8d9d2" stroke-width="1.1"/>
<rect x="64" y="265.1" width="28" height="10" fill="#72736e"/>
<path d="M95.5,232.10000000000002 L128,232.10000000000002 L128,276.1 L95.5,276.1 L92,254.10000000000002 Z" fill="#0f100e" stroke="#d8d9d2" stroke-width="1.1"/>
<path d="M99,243.10000000000002 L99,254.10000000000002 M102,239.10000000000002 L102,254.10000000000002 M105,237.10000000000002 L105,254.10000000000002 M108,235.10000000000002 L108,254.10000000000002 M111,237.10000000000002 L111,254.10000000000002 M114,239.10000000000002 L114,254.10000000000002" stroke="#ecece6" stroke-width="1.9" stroke-dasharray="2.2,0.9"/>
<rect x="117" y="241.10000000000002" width="3" height="12" fill="#ecece6"/>
<circle cx="118.5" cy="236.60000000000002" r="3" fill="#ecece6"/>
<path d="M104,258.1 L124,258.1 M100,261.6 L124,261.6 M108,265.1 L118,265.1" stroke="#e2e2dc" stroke-width="1.6" stroke-dasharray="2.5,0.8"/>
<text x="0" y="0" transform="translate(33.5,251.60000000000002) rotate(-90)" text-anchor="middle" font-family="Liberation Sans, sans-serif" font-weight="bold" font-size="11" fill="#f2f2ec">15</text>
<rect x="3.5" y="287.8" width="18.5" height="44" fill="#151614" stroke="#d8d9d2" stroke-width="1.1"/>
<rect x="4.5" y="322.8" width="16.5" height="8.5" fill="#878883"/>
<path d="M4,305.3 L22,305.3 M4,316.3 L22,316.3" stroke="#d8d9d2" stroke-width="1.1"/>
<path d="M24.5,287.8 L61.5,287.8 L63,309.8 L61.5,331.8 L24.5,331.8 Z" fill="#111210" stroke="#d8d9d2" stroke-width="1.1"/>
<rect x="22" y="293.8" width="14" height="32" fill="#1c1d1b"/>
<path d="M23.5,308.8 L27.5,308.8 L28.5,322.8 L23.5,323.8 Z" fill="url(#tagG)"/>
<rect x="64" y="285.8" width="28" height="18" fill="#232422"/>
<circle cx="69" cy="305.3" r="3.8" fill="none" stroke="#e8e8e2" stroke-width="1.2"/>
<path d="M74,301.8 L74,309.8 M77,300.8 L77,309.8 M80,302.8 L80,309.8 M83,301.8 L83,309.8 M86,303.8 L86,309.8" stroke="#e8e8e2" stroke-width="1.3"/>
<path d="M63,311.8 L92,311.8" stroke="#d8d9d2" stroke-width="1.1"/>
<rect x="64" y="321.8" width="28" height="10" fill="#72736e"/>
<path d="M95.5,288.8 L128,288.8 L128,332.8 L95.5,332.8 L92,310.8 Z" fill="#0f100e" stroke="#d8d9d2" stroke-width="1.1"/>
<path d="M99,299.8 L99,310.8 M102,295.8 L102,310.8 M105,293.8 L105,310.8 M108,291.8 L108,310.8 M111,293.8 L111,310.8 M114,295.8 L114,310.8" stroke="#ecece6" stroke-width="1.9" stroke-dasharray="2.2,0.9"/>
<rect x="117" y="297.8" width="3" height="12" fill="#ecece6"/>
<circle cx="118.5" cy="293.3" r="3" fill="#ecece6"/>
<path d="M104,314.8 L124,314.8 M100,318.3 L124,318.3 M108,321.8 L118,321.8" stroke="#e2e2dc" stroke-width="1.6" stroke-dasharray="2.5,0.8"/>
<text x="0" y="0" transform="translate(33.5,308.3) rotate(-90)" text-anchor="middle" font-family="Liberation Sans, sans-serif" font-weight="bold" font-size="11" fill="#f2f2ec">15</text>
<rect x="21" y="39" width="25" height="30" fill="#3e3f3b"/>
<rect x="33" y="39" width="13" height="30" fill="#2b2c29"/>
</g>
<text x="248.0" y="631.0" textLength="28" lengthAdjust="spacingAndGlyphs" font-family="Liberation Sans, sans-serif" font-size="29" fill="#1b1c1a" stroke="#1b1c1a" stroke-width="0.35">1L</text>
<text x="572" y="631.0" textLength="28" lengthAdjust="spacingAndGlyphs" font-family="Liberation Sans, sans-serif" font-size="29" fill="#1b1c1a" stroke="#1b1c1a" stroke-width="0.35">1R</text>
<text x="247.2" y="687.3" textLength="28" lengthAdjust="spacingAndGlyphs" font-family="Liberation Sans, sans-serif" font-size="29" fill="#1b1c1a" stroke="#1b1c1a" stroke-width="0.35">2L</text>
<text x="572" y="687.3" textLength="28" lengthAdjust="spacingAndGlyphs" font-family="Liberation Sans, sans-serif" font-size="29" fill="#1b1c1a" stroke="#1b1c1a" stroke-width="0.35">2R</text>
<text x="246.4" y="743.6" textLength="28" lengthAdjust="spacingAndGlyphs" font-family="Liberation Sans, sans-serif" font-size="29" fill="#1b1c1a" stroke="#1b1c1a" stroke-width="0.35">3L</text>
<text x="572" y="743.6" textLength="28" lengthAdjust="spacingAndGlyphs" font-family="Liberation Sans, sans-serif" font-size="29" fill="#1b1c1a" stroke="#1b1c1a" stroke-width="0.35">3R</text>
<text x="245.6" y="799.9" textLength="28" lengthAdjust="spacingAndGlyphs" font-family="Liberation Sans, sans-serif" font-size="29" fill="#1b1c1a" stroke="#1b1c1a" stroke-width="0.35">4L</text>
<text x="572" y="799.9" textLength="28" lengthAdjust="spacingAndGlyphs" font-family="Liberation Sans, sans-serif" font-size="29" fill="#1b1c1a" stroke="#1b1c1a" stroke-width="0.35">4R</text>
<text x="244.8" y="856.2" textLength="28" lengthAdjust="spacingAndGlyphs" font-family="Liberation Sans, sans-serif" font-size="29" fill="#1b1c1a" stroke="#1b1c1a" stroke-width="0.35">5L</text>
<text x="572" y="856.2" textLength="28" lengthAdjust="spacingAndGlyphs" font-family="Liberation Sans, sans-serif" font-size="29" fill="#1b1c1a" stroke="#1b1c1a" stroke-width="0.35">5R</text>
<text x="244.0" y="912.5" textLength="28" lengthAdjust="spacingAndGlyphs" font-family="Liberation Sans, sans-serif" font-size="29" fill="#1b1c1a" stroke="#1b1c1a" stroke-width="0.35">6L</text>
<text x="572" y="912.5" textLength="28" lengthAdjust="spacingAndGlyphs" font-family="Liberation Sans, sans-serif" font-size="29" fill="#1b1c1a" stroke="#1b1c1a" stroke-width="0.35">6R</text>
<text x="176" y="578.5" text-anchor="middle" font-family="Liberation Sans, sans-serif" font-size="16" fill="#1d1e1c">G</text>
<text x="200.5" y="578.5" text-anchor="middle" font-family="Liberation Sans, sans-serif" font-size="16" fill="#1d1e1c">O</text>
<text x="224" y="578.5" text-anchor="middle" font-family="Liberation Sans, sans-serif" font-size="16" fill="#1d1e1c">L</text>
<text x="170" y="951" text-anchor="middle" font-family="Liberation Sans, sans-serif" font-size="16" fill="#1d1e1c">G</text>
<text x="194" y="951" text-anchor="middle" font-family="Liberation Sans, sans-serif" font-size="16" fill="#1d1e1c">O</text>
<text x="218.5" y="951" text-anchor="middle" font-family="Liberation Sans, sans-serif" font-size="16" fill="#1d1e1c">L</text>
<text x="501" y="579" text-anchor="middle" font-family="Liberation Sans, sans-serif" font-size="16" fill="#1d1e1c">G</text>
<text x="525.5" y="579" text-anchor="middle" font-family="Liberation Sans, sans-serif" font-size="16" fill="#1d1e1c">O</text>
<text x="548.5" y="579" text-anchor="middle" font-family="Liberation Sans, sans-serif" font-size="16" fill="#1d1e1c">L</text>
<text x="501" y="951" text-anchor="middle" font-family="Liberation Sans, sans-serif" font-size="16" fill="#1d1e1c">G</text>
<text x="525.5" y="951" text-anchor="middle" font-family="Liberation Sans, sans-serif" font-size="16" fill="#1d1e1c">O</text>
<text x="549" y="951" text-anchor="middle" font-family="Liberation Sans, sans-serif" font-size="16" fill="#1d1e1c">L</text>
<defs>
<radialGradient id="faceG" cx="0.55" cy="0.35" r="0.7">
<stop offset="0" stop-color="#f6f7f2"/><stop offset="0.6" stop-color="#e9eae4"/><stop offset="1" stop-color="#cfd0ca"/></radialGradient>
<linearGradient id="tagG" x1="0" y1="0" x2="0" y2="1">
<stop offset="0" stop-color="#ffffff"/><stop offset="0.5" stop-color="#d6d6d0"/><stop offset="1" stop-color="#5a5b57"/></linearGradient>
<radialGradient id="faceS" cx="0.5" cy="0.45" r="0.55">
<stop offset="0" stop-color="#f7f8f3"/><stop offset="0.8" stop-color="#eeefea"/><stop offset="1" stop-color="#c9cac4"/></radialGradient>
<radialGradient id="flangeG" cx="0.5" cy="0.5" r="0.5">
<stop offset="0.6" stop-color="#f1f2ed"/><stop offset="0.97" stop-color="#eceee8"/><stop offset="1" stop-color="#dfe0da"/></radialGradient>
</defs>
<circle cx="645" cy="1137" r="100" fill="url(#flangeG)" stroke="#d9dad4" stroke-width="1"/>
<circle cx="645" cy="1137" r="65" fill="#1c1d1b"/>
<circle cx="645" cy="1137" r="61.8" fill="url(#faceG)"/>
<circle cx="641.0" cy="1140.0" r="8.8" fill="#141412"/>
<ellipse cx="588.0" cy="1147.0" rx="5.5" ry="7.5" fill="#5d5e5a"/>
<ellipse cx="697.0" cy="1130.0" rx="6.5" ry="8.5" fill="#5d5e5a"/>
<rect x="627.0" y="1083.0" width="10.0" height="17.0" fill="#d2d3cd" opacity="0.8"/>
<path d="M609.0,1108.0 L634.0,1098.0 L637.0,1104.0 L612.0,1114.0 Z" fill="#dcddd7" stroke="#6f706b" stroke-width="1"/>
<path d="M682.0,1132.0 L687.0,1131.0 L691.0,1156.0 L685.0,1157.0 Z" fill="#dcddd7" stroke="#6f706b" stroke-width="1"/>
<path d="M612.0,1170.0 Q620.0,1182.0 636.0,1180.0 L636.0,1186.0 Q618.0,1188.0 609.0,1175.0 Z" fill="#e2e3dd" stroke="#6f706b" stroke-width="1"/>
<circle cx="573" cy="1095" r="8.5" fill="url(#screwG)" stroke="#84867f" stroke-width="1"/>
<path d="M568.75,1093.3 L577.25,1096.7 M572.15,1090.75 L573.85,1099.25" stroke="#3a3b38" stroke-width="1.5"/>
<circle cx="716" cy="1098" r="8.5" fill="url(#screwG)" stroke="#84867f" stroke-width="1"/>
<path d="M711.75,1096.3 L720.25,1099.7 M715.15,1093.75 L716.85,1102.25" stroke="#3a3b38" stroke-width="1.5"/>
<circle cx="645.5" cy="1221" r="8.5" fill="url(#screwG)" stroke="#84867f" stroke-width="1"/>
<path d="M641.25,1219.3 L649.75,1222.7 M644.65,1216.75 L646.35,1225.25" stroke="#3a3b38" stroke-width="1.5"/>
<polygon points="1305.5,393 1310,393 1313,560 1315,700 1314.5,1150 1313,1215 1307,1247 1304,1247" fill="#c4c7bc"/>
<polygon points="1305.5,393 1310,393 1310.8,443 1306,443" fill="#a3a69b"/>
<polygon points="1305.5,393 1310,393 1310.1,400 1305.5,400" fill="#8d9086"/>
<polygon points="1115,441 1306,443 1305,1244 1115,1244" fill="url(#sideG)"/>
<polygon points="1115,441 1306,443 1306,445 1115,443" fill="#8a8d84"/>
<rect x="1115" y="441" width="4" height="803" fill="#a9aea9"/>
<rect x="1113.8" y="628" width="1.8" height="46" fill="#2a2c29"/>
<circle cx="1216.5" cy="577.5" r="3.6" fill="#151614"/>
<circle cx="1215" cy="887" r="3.6" fill="#151614"/>
<circle cx="1248.5" cy="999" r="28" fill="none" stroke="#8f9289" stroke-width="1" stroke-dasharray="2,1.5"/>
<circle cx="1208" cy="1121" r="86.8" fill="#f8f9f4" stroke="#e0e1db" stroke-width="1"/>
<circle cx="1208" cy="1121" r="57" fill="#3a3b38"/>
<circle cx="1209" cy="1121" r="53.2" fill="url(#faceS)"/>
<circle cx="1209" cy="1121" r="7.2" fill="#121211"/>
<path d="M1187,1097 L1202,1091 L1204,1096 L1189,1101 Z" fill="#fbfbf8" stroke="#707170" stroke-width="1.2"/>
<path d="M1243,1115 L1248,1114 L1247,1136 L1242,1137 Z" fill="#fbfbf8" stroke="#707170" stroke-width="1.2"/>
<path d="M1185,1147 Q1194,1158 1207,1157 L1207,1162 Q1191,1164 1182,1151 Z" fill="#fbfbf8" stroke="#707170" stroke-width="1.2"/>
<circle cx="1145" cy="1084" r="7" fill="#aeafa8" stroke="#8a8b85" stroke-width="1"/>
<circle cx="1143" cy="1082.5" r="1.2" fill="#f0f0ea"/><circle cx="1147" cy="1082.5" r="1.2" fill="#f0f0ea"/><circle cx="1145" cy="1086" r="1.2" fill="#f0f0ea"/>
<circle cx="1271" cy="1084" r="7" fill="#aeafa8" stroke="#8a8b85" stroke-width="1"/>
<circle cx="1269" cy="1082.5" r="1.2" fill="#f0f0ea"/><circle cx="1273" cy="1082.5" r="1.2" fill="#f0f0ea"/><circle cx="1271" cy="1086" r="1.2" fill="#f0f0ea"/>
<circle cx="1208.5" cy="1192" r="7" fill="#aeafa8" stroke="#8a8b85" stroke-width="1"/>
<circle cx="1206.5" cy="1190.5" r="1.2" fill="#f0f0ea"/><circle cx="1210.5" cy="1190.5" r="1.2" fill="#f0f0ea"/><circle cx="1208.5" cy="1194" r="1.2" fill="#f0f0ea"/>
<rect x="147" y="1271.8" width="623" height="5.4" fill="#1174ae"/>
<polygon points="107,1274.5 152,1261.3 152,1287.7" fill="#1174ae"/>
<polygon points="810,1274.5 765,1261.3 765,1287.7" fill="#1174ae"/>
<rect x="1122" y="1271.7" width="177" height="5.4" fill="#1174ae"/>
<polygon points="1082,1274.4 1127,1261.2 1127,1287.6000000000001" fill="#1174ae"/>
<polygon points="1339,1274.4 1294,1261.2 1294,1287.6000000000001" fill="#1174ae"/>
<rect x="851.8" y="502.4" width="5.4" height="691.6" fill="#1174ae"/>
<polygon points="854.5,462.4 841.0,507.4 868.0,507.4" fill="#1174ae"/>
<polygon points="854.5,1234 841.0,1189 868.0,1189" fill="#1174ae"/>
<text x="866" y="805" textLength="120" lengthAdjust="spacingAndGlyphs" font-family="Liberation Sans, sans-serif" font-size="24.5" fill="#4d4d4b">[15.3 inch]</text>
<text x="888" y="835" textLength="77" lengthAdjust="spacingAndGlyphs" font-family="Liberation Sans, sans-serif" font-size="24.5" fill="#4d4d4b">39 cm</text>
<text x="404" y="1315" textLength="113" lengthAdjust="spacingAndGlyphs" font-family="Liberation Sans, sans-serif" font-size="24.5" fill="#4d4d4b">[14.1 inch]</text>
<text x="411" y="1345" textLength="98" lengthAdjust="spacingAndGlyphs" font-family="Liberation Sans, sans-serif" font-size="24.5" fill="#4d4d4b">35.8 cm</text>
<text x="1156" y="1314" textLength="93" lengthAdjust="spacingAndGlyphs" font-family="Liberation Sans, sans-serif" font-size="24.5" fill="#4d4d4b">[5 inch]</text>
<text x="1158" y="1345" textLength="88" lengthAdjust="spacingAndGlyphs" font-family="Liberation Sans, sans-serif" font-size="24.5" fill="#4d4d4b">12.7 cm</text>
</svg></body></html>
